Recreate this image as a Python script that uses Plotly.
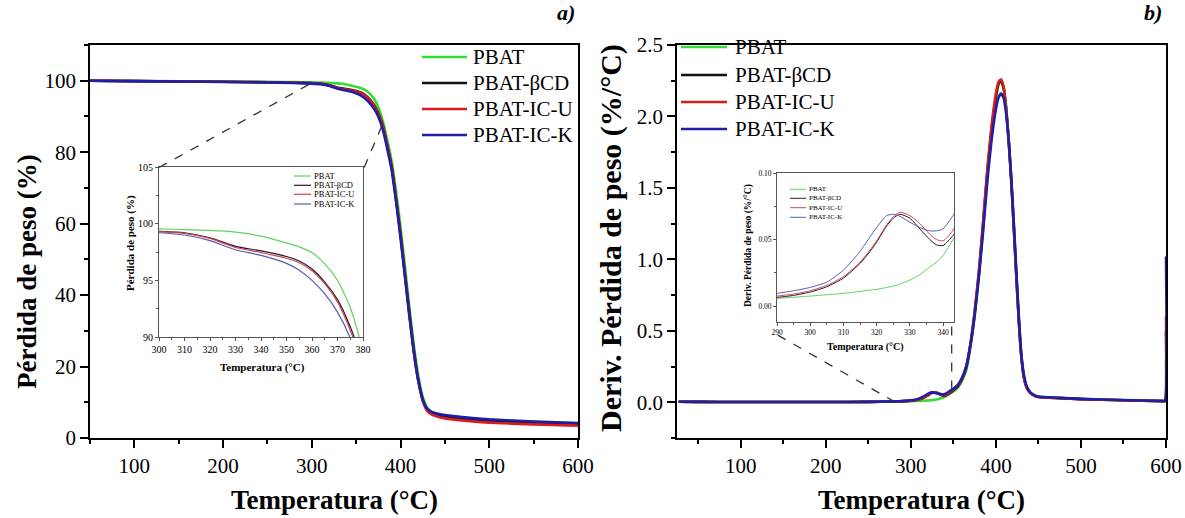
import plotly.graph_objects as go

# ---------------- data ----------------
names = ["PBAT", "PBAT-βCD", "PBAT-IC-U", "PBAT-IC-K"]

T_tga = [50, 100, 150, 200, 250, 280, 300, 310, 320, 330, 340, 350, 355, 360, 365, 370,
         375, 380, 385, 390, 395, 400, 405, 410, 415, 420, 425, 430, 435, 440, 450, 475,
         500, 550, 600]
w_pbat = [100.0, 99.92, 99.85, 99.78, 99.68, 99.6, 99.54, 99.47, 99.4, 99.25, 98.9, 98.3, 97.95,
          97.45, 96.45, 95.0, 92.6, 88.7, 83.5, 77.5, 69.0, 59.0, 48.0, 36.5, 26.0, 17.5, 11.5,
          8.5, 7.3, 6.8, 6.3, 5.6, 5.1, 4.5, 4.1]
w_bcd = [100.0, 99.9, 99.8, 99.7, 99.58, 99.45, 99.33, 99.2, 98.75, 98.0, 97.6, 97.1, 96.7,
         96.0, 94.85, 93.3, 90.9, 87.5, 82.0, 76.0, 67.0, 57.0, 46.0, 35.0, 24.5, 16.3, 10.8,
         8.1, 7.1, 6.6, 6.0, 5.3, 4.8, 4.2, 3.8]
w_icu = [100.0, 99.9, 99.8, 99.7, 99.57, 99.43, 99.3, 99.15, 98.7, 97.9, 97.45, 96.95, 96.55,
         95.85, 94.7, 93.1, 90.6, 87.3, 81.8, 75.8, 66.8, 56.5, 45.5, 34.5, 24.0, 16.0, 10.4,
         7.6, 6.6, 6.1, 5.5, 4.8, 4.3, 3.8, 3.45]
w_ick = [100.0, 99.88, 99.78, 99.66, 99.52, 99.38, 99.2, 99.0, 98.5, 97.7, 97.2, 96.5, 95.9,
         95.0, 93.8, 92.2, 89.9, 86.3, 81.0, 75.0, 66.0, 56.0, 45.0, 34.0, 24.0, 16.0, 10.7,
         8.2, 7.3, 6.9, 6.4, 5.7, 5.2, 4.6, 4.2]

T_dtg = [27, 50, 100, 150, 200, 250, 280, 290, 295, 300, 305, 310, 315, 318, 320, 323, 325, 327,
         330, 333, 336, 338, 340, 343, 346, 350, 355, 360, 365, 370, 375, 380, 385, 390, 395,
         400, 403, 406, 409, 412, 415, 418, 421, 424, 427, 430, 433, 436, 440, 445, 450, 475,
         500, 550, 597, 599, 600]
d_pbat = [0.004, 0.003, 0.002, 0.002, 0.002, 0.003, 0.005, 0.0058, 0.0066, 0.0075, 0.0085, 0.0095,
          0.011, 0.012, 0.0125, 0.014, 0.015, 0.0165, 0.0195, 0.0235, 0.0295, 0.033, 0.038, 0.050,
          0.062, 0.075, 0.10, 0.15, 0.22, 0.38, 0.60, 0.88, 1.22, 1.60, 1.90, 2.12, 2.22, 2.25,
          2.20, 2.07, 1.85, 1.58, 1.25, 0.90, 0.58, 0.32, 0.18, 0.11, 0.07, 0.048, 0.038, 0.030,
          0.022, 0.014, 0.008, 0.008, 0.3]
d_bcd = [0.004, 0.003, 0.002, 0.002, 0.002, 0.003, 0.005, 0.0065, 0.008, 0.0105, 0.0145, 0.021,
         0.032, 0.041, 0.048, 0.060, 0.066, 0.069, 0.066, 0.058, 0.050, 0.046, 0.0455, 0.053,
         0.065, 0.085, 0.11, 0.16, 0.24, 0.40, 0.62, 0.90, 1.25, 1.62, 1.92, 2.14, 2.23, 2.25,
         2.20, 2.05, 1.83, 1.55, 1.22, 0.88, 0.56, 0.31, 0.17, 0.105, 0.068, 0.047, 0.037, 0.029,
         0.022, 0.014, 0.008, 0.008, 0.5]
d_icu = [0.004, 0.003, 0.002, 0.002, 0.002, 0.003, 0.005, 0.0075, 0.009, 0.0115, 0.0155, 0.022,
         0.033, 0.042, 0.049, 0.061, 0.067, 0.0705, 0.068, 0.062, 0.054, 0.050, 0.049, 0.057,
         0.070, 0.090, 0.115, 0.165, 0.25, 0.41, 0.64, 0.92, 1.27, 1.64, 1.94, 2.16, 2.24, 2.26,
         2.21, 2.06, 1.84, 1.56, 1.23, 0.88, 0.56, 0.31, 0.17, 0.105, 0.068, 0.047, 0.037, 0.029,
         0.022, 0.014, 0.008, 0.008, 0.6]
d_ick = [0.004, 0.003, 0.002, 0.002, 0.002, 0.003, 0.006, 0.0095, 0.0115, 0.014, 0.018, 0.027,
         0.041, 0.052, 0.059, 0.068, 0.069, 0.0675, 0.063, 0.059, 0.0565, 0.0565, 0.058, 0.068,
         0.080, 0.095, 0.12, 0.17, 0.25, 0.40, 0.61, 0.88, 1.20, 1.55, 1.84, 2.05, 2.13, 2.16,
         2.13, 2.02, 1.83, 1.57, 1.26, 0.92, 0.60, 0.33, 0.19, 0.115, 0.072, 0.050, 0.040, 0.031,
         0.024, 0.016, 0.009, 0.009, 1.02]

x_ticks_main = [100, 200, 300, 400, 500, 600]

# ---------------- styling ----------------
W, H = 1185, 518
main_colors = ["#35dc35", "#111111", "#d61e1e", "#1e1ea8"]
inset_colors = ["#5fd35f", "#2a1530", "#c84a4a", "#5a5ab4"]
SERIF = "Liberation Serif, Times New Roman, serif"


def px(x):
    return x / W


def py(y):
    return 1 - y / H


fig = go.Figure()
tga = [w_pbat, w_bcd, w_icu, w_ick]
dtg = [d_pbat, d_bcd, d_icu, d_ick]
for i, nm in enumerate(names):
    fig.add_trace(go.Scatter(x=T_tga, y=tga[i], name=nm, mode="lines", xaxis="x", yaxis="y",
                             line=dict(color=main_colors[i], width=2.6, shape="spline", smoothing=0.5),
                             showlegend=False))
    fig.add_trace(go.Scatter(x=T_dtg, y=dtg[i], name=nm, mode="lines", xaxis="x2", yaxis="y2",
                             line=dict(color=main_colors[i], width=2.6, shape="spline", smoothing=0.5),
                             showlegend=False))
for i, nm in enumerate(names):
    fig.add_trace(go.Scatter(x=T_tga, y=tga[i], name=nm, mode="lines", xaxis="x3", yaxis="y3",
                             line=dict(color=inset_colors[i], width=1.2, shape="spline", smoothing=0.6),
                             showlegend=False))
    fig.add_trace(go.Scatter(x=T_dtg, y=dtg[i], name=nm, mode="lines", xaxis="x4", yaxis="y4",
                             line=dict(color=inset_colors[i], width=1.0, shape="spline", smoothing=0.6),
                             showlegend=False))


def ax(domain, rng, size, ticklen, lw, **kw):
    d = dict(domain=domain, range=rng, showgrid=False, zeroline=False, showline=True,
             mirror=True, linecolor="black", linewidth=lw, ticks="outside", ticklen=ticklen,
             tickwidth=lw, tickcolor="black", automargin=False,
             tickfont=dict(family=SERIF, size=size, color="black"))
    d.update(kw)
    return d


main_ydom = [py(438), py(45)]
fig.update_layout(
    width=W, height=H, autosize=False,
    margin=dict(l=0, r=0, t=0, b=0),
    paper_bgcolor="white", plot_bgcolor="white",
    xaxis=ax([px(90), px(578)], [50, 600], 21, 8, 1.5, tickvals=x_ticks_main,
             minor=dict(dtick=50, tick0=0, ticklen=4, tickwidth=1.5, ticks="outside", tickcolor="black"),
             anchor="y"),
    yaxis=ax(main_ydom, [0, 110], 21, 8, 1.5, dtick=20, tick0=0,
             minor=dict(dtick=10, tick0=0, ticklen=4, tickwidth=1.5, ticks="outside", tickcolor="black"),
             anchor="x"),
    xaxis2=ax([px(677), px(1166)], [25, 600], 21, 8, 1.5, tickvals=x_ticks_main,
              minor=dict(dtick=50, tick0=0, ticklen=4, tickwidth=1.5, ticks="outside", tickcolor="black"),
              anchor="y2"),
    yaxis2=ax(main_ydom, [-0.25, 2.5], 21, 8, 1.5, dtick=0.5, tick0=0, tickformat=".1f",
              minor=dict(dtick=0.25, tick0=0, ticklen=4, tickwidth=1.5, ticks="outside", tickcolor="black"),
              anchor="x2"),
    xaxis3=ax([px(159), px(363)], [300, 380], 10, 3, 1.0, dtick=10, tick0=300,
              linecolor="#555", tickcolor="#555",
              minor=dict(dtick=5, ticklen=2, ticks="outside", tickcolor="#555"), anchor="y3"),
    yaxis3=ax([py(337), py(167)], [90, 105], 10, 3, 1.0, dtick=5, tick0=90,
              linecolor="#555", tickcolor="#555",
              minor=dict(dtick=2.5, ticklen=2, ticks="outside", tickcolor="#555"), anchor="x3"),
    xaxis4=ax([px(777), px(954)], [290, 343.3], 7.5, 3, 1.0, dtick=10, tick0=290,
              linecolor="#555", tickcolor="#555",
              minor=dict(dtick=5, ticklen=2, ticks="outside", tickcolor="#555"), anchor="y4"),
    yaxis4=ax([py(322), py(173)], [-0.012, 0.10], 7.5, 3, 1.0, tickvals=[0, 0.05, 0.10],
              ticktext=["0.00", "0.05", "0.10"], linecolor="#555", tickcolor="#555",
              minor=dict(dtick=0.025, ticklen=2, ticks="outside", tickcolor="#555"), anchor="x4"),
)

ann = []
shapes = []


def title(text, x, y, size, angle=0, bold=True, italic=False):
    t = f"<b>{text}</b>" if bold else text
    if italic:
        t = f"<i>{t}</i>"
    ann.append(dict(text=t, x=px(x), y=py(y), xref="paper", yref="paper", showarrow=False,
                    xanchor="center", yanchor="middle", textangle=angle,
                    font=dict(family=SERIF, size=size, color="black")))


title("Temperatura (°C)", 334, 500, 27)
title("Temperatura (°C)", 921, 500, 27)
title("Pérdida de peso (%)", 27, 272, 27, angle=-90)
title("Deriv. Pérdida de peso (%/°C)", 611, 238, 30, angle=-90)
title("a)", 566, 13, 22, italic=True)
title("b)", 1153, 13, 22, italic=True)
title("Temperatura (°C)", 262, 367, 11)
title("Pérdida de peso (%)", 130, 243, 11, angle=-90)
title("Temperatura (°C)", 865, 347, 10)
title("Deriv. Pérdida de peso (%/°C)", 749, 246, 9.5, angle=-90)


def legend(x0, x1, xt, ys, size, lw, colors):
    for nm, c, y in zip(names, colors, ys):
        shapes.append(dict(type="line", xref="paper", yref="paper", x0=px(x0), x1=px(x1),
                           y0=py(y), y1=py(y), line=dict(color=c, width=lw)))
        ann.append(dict(text=nm, x=px(xt), y=py(y), xref="paper", yref="paper", showarrow=False,
                        xanchor="left", yanchor="middle",
                        font=dict(family=SERIF, size=size, color="black")))


legend(422, 467, 471, [57, 83, 109, 135], 21, 2.6, main_colors)
legend(681, 727, 733, [47, 75, 102, 129], 21, 2.6, main_colors)
legend(294, 311, 312, [176, 185.3, 194.3, 204], 8.5, 1.2, inset_colors)
legend(790, 806, 807, [189.3, 198.3, 207.7, 217.3], 7, 1.0, inset_colors)

dash = dict(color="#333", width=1.3, dash="dash")
shapes += [
    dict(type="line", xref="x", yref="y", x0=127.8, y0=75.7, x1=300, y1=99.4, line=dash),
    dict(type="line", xref="x", yref="y", x0=359, y0=75.7, x1=380, y1=88, line=dash),
    dict(type="line", xref="x2", yref="y2", x0=143.5, y0=0.47, x1=279, y1=0.01, line=dash),
    dict(type="line", xref="x2", yref="y2", x0=348, y0=0.53, x1=348, y1=0.08, line=dash),
]

fig.update_layout(annotations=ann, shapes=shapes)
fig.write_html("out.html", config={"displayModeBar": False},
               post_script="document.body.style.margin='0';document.body.style.overflow='hidden';")
